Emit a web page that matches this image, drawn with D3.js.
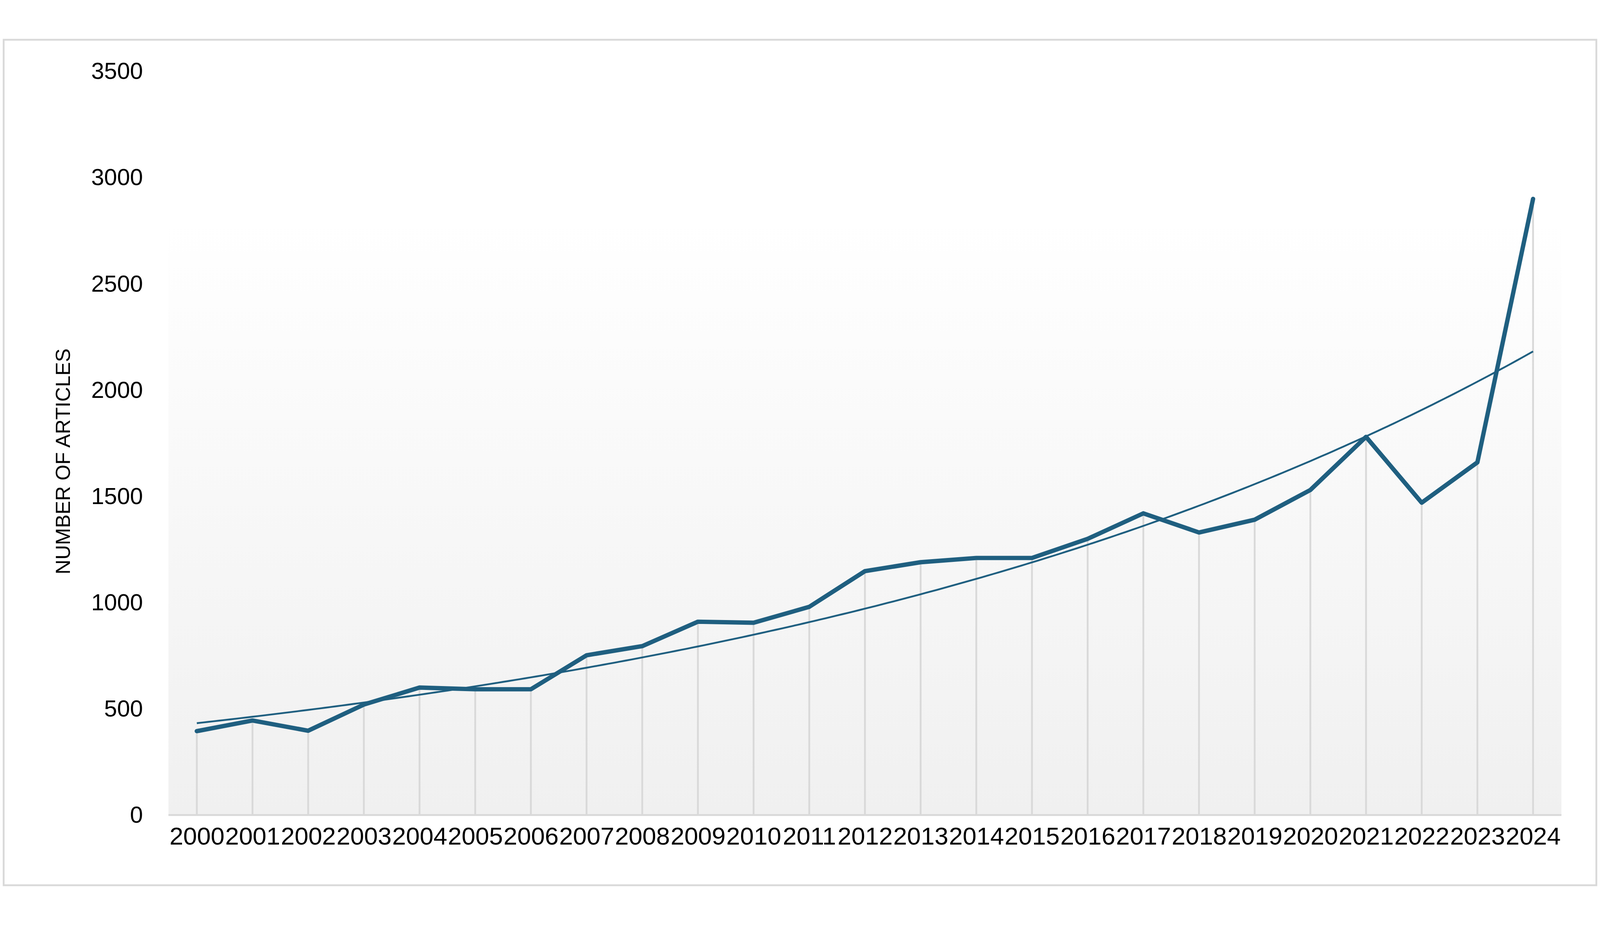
<!DOCTYPE html>
<html><head><meta charset="utf-8">
<script src="https://cdn.jsdelivr.net/npm/d3@7"></script>
<style>html,body{margin:0;padding:0;background:#fff;overflow:hidden;width:100%;height:100%}svg{display:block;width:100vw;height:100vh}</style></head>
<body><svg id="c" viewBox="0 0 4398 2369" preserveAspectRatio="xMidYMid meet"></svg>
<script>
const years = ["2000","2001","2002","2003","2004","2005","2006","2007","2008","2009","2010","2011","2012","2013","2014","2015","2016","2017","2018","2019","2020","2021","2022","2023","2024"];
const articles = [395,445,397,520,600,592,592,752,795,910,905,980,1148,1190,1210,1210,1300,1420,1330,1390,1530,1780,1470,1660,2900];
const yTicks = [0,500,1000,1500,2000,2500,3000,3500];

const svg = d3.select("#c");
const W=4398,H=2369, L=463, R=4292, T=109, B=2154;
svg.append("rect").attr("x",10).attr("y",22).attr("width",W-20).attr("height",H-44).attr("fill","#fff").attr("stroke","#d9d9d9").attr("stroke-width",5);
const defs=svg.append("defs");
const g=defs.append("linearGradient").attr("id","bg").attr("x1",0).attr("y1",0).attr("x2",0).attr("y2",1);
g.append("stop").attr("offset","0").attr("stop-color","#ffffff");
g.append("stop").attr("offset","0.2").attr("stop-color","#ffffff");
g.append("stop").attr("offset","1").attr("stop-color","#f0f0f0");
svg.append("rect").attr("x",L).attr("y",T).attr("width",R-L).attr("height",B-T).attr("fill","url(#bg)");

const x=d3.scalePoint().domain(years).range([L+78,R-78]);
const y=d3.scaleLinear().domain([0,3500]).range([B,T]);

svg.selectAll(".drop").data(articles).enter().append("line")
 .attr("x1",(d,i)=>x(years[i])).attr("x2",(d,i)=>x(years[i]))
 .attr("y1",d=>y(d)).attr("y2",B).attr("stroke","#d9d9d9").attr("stroke-width",5);
svg.append("line").attr("x1",L).attr("x2",R).attr("y1",B).attr("y2",B).attr("stroke","#d9d9d9").attr("stroke-width",5);

const n=articles.length; let sx=0,sy=0,sxx=0,sxy=0;
articles.forEach((v,i)=>{const ly=Math.log(v);sx+=i;sy+=ly;sxx+=i*i;sxy+=i*ly;});
const b=(n*sxy-sx*sy)/(n*sxx-sx*sx), a=(sy-b*sx)/n;
const trend=d3.range(0,n-1+0.001,0.1);
svg.append("path").datum(trend).attr("fill","none").attr("stroke","#1f5f80").attr("stroke-width",5)
 .attr("d",d3.line().x(t=>x(years[0])+t*x.step()).y(t=>y(Math.exp(a+b*t))));

svg.append("path").datum(articles).attr("fill","none").attr("stroke","#1f5f80").attr("stroke-width",12)
 .attr("stroke-linejoin","round").attr("stroke-linecap","round")
 .attr("d",d3.line().x((d,i)=>x(years[i])).y(d=>y(d)));

const ya=svg.append("g").attr("transform",`translate(${L-70},0)`)
 .call(d3.axisLeft(y).tickValues(yTicks).tickFormat(d3.format("d")).tickSize(0).tickPadding(0));
ya.select(".domain").remove();
ya.selectAll("text").attr("font-family","Liberation Sans, Arial, sans-serif").attr("font-size",64).attr("fill","#000");
const xa=svg.append("g").attr("transform",`translate(0,${B+20})`)
 .call(d3.axisBottom(x).tickSize(0).tickPadding(0));
xa.select(".domain").remove();
xa.selectAll("text").attr("dy","0.9em").attr("font-family","Liberation Sans, Arial, sans-serif").attr("font-size",68).attr("fill","#000");

svg.append("text").attr("transform",`translate(192,${(T+B)/2+50}) rotate(-90)`).attr("text-anchor","middle")
 .attr("font-family","Liberation Sans, Arial, sans-serif").attr("font-size",56).text("NUMBER OF ARTICLES");
</script></body></html>
